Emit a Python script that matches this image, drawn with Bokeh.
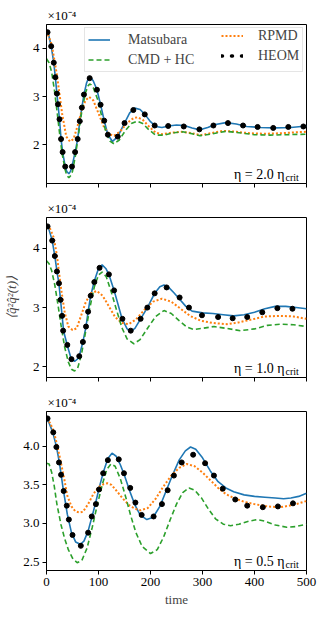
from bokeh.plotting import figure
from bokeh.layouts import column
from bokeh.models import (Range1d, FixedTicker, Label, Legend, LegendItem,
                          CustomLabelingPolicy)
from bokeh.embed import file_html
from bokeh.resources import INLINE

FONT = "Liberation Serif"

# ---------------- data (values in units of 1e-4) ----------------
x_ticks = [0, 100, 200, 300, 400, 500]
x_tick_labels = ["0", "100", "200", "300", "400", "500"]

# eta = 2.0 eta_crit
t_mats_20 = [0, 3, 9, 14, 17, 20, 25, 28, 31, 36, 39, 43, 46, 49, 55, 60, 64, 68, 72, 77, 80, 83, 86, 90, 97, 104, 111, 118, 127, 137, 150, 160, 170, 180, 190, 200, 210, 222, 235, 250, 265, 280, 295, 310, 325, 345, 365, 385, 410, 440, 470, 500]
mats_20 = [4.36, 4.33, 4.04, 3.70, 3.40, 3.06, 2.53, 2.12, 1.85, 1.55, 1.45, 1.40, 1.45, 1.55, 1.85, 2.12, 2.49, 2.77, 3.04, 3.28, 3.36, 3.40, 3.38, 3.32, 3.14, 2.83, 2.50, 2.21, 2.07, 2.17, 2.45, 2.66, 2.76, 2.73, 2.62, 2.48, 2.38, 2.36, 2.39, 2.41, 2.40, 2.35, 2.31, 2.36, 2.42, 2.46, 2.43, 2.38, 2.36, 2.35, 2.36, 2.39]
t_rpmd_20 = [0, 10, 20, 30, 38, 45, 52, 60, 68, 75, 82, 90, 100, 110, 120, 130, 142, 155, 167, 175, 185, 197, 210, 222, 240, 260, 280, 296, 315, 340, 365, 390, 420, 450, 480, 500]
rpmd_20 = [4.36, 4.08, 3.45, 2.65, 2.17, 2.07, 2.12, 2.40, 2.72, 2.92, 2.99, 2.92, 2.65, 2.38, 2.22, 2.19, 2.28, 2.45, 2.55, 2.57, 2.52, 2.38, 2.25, 2.22, 2.25, 2.27, 2.24, 2.20, 2.24, 2.29, 2.27, 2.24, 2.23, 2.24, 2.26, 2.27]
t_cmd_20 = [0, 5, 10, 15, 20, 25, 30, 36, 39, 43, 47, 50, 56, 62, 68, 75, 80, 83, 86, 90, 98, 106, 114, 122, 130, 140, 152, 163, 174, 185, 197, 210, 225, 245, 262, 280, 295, 315, 345, 370, 400, 430, 460, 500]
cmd_20 = [3.78, 3.70, 3.50, 3.15, 2.72, 2.25, 1.82, 1.48, 1.37, 1.32, 1.37, 1.45, 1.80, 2.25, 2.70, 3.08, 3.22, 3.26, 3.24, 3.18, 2.95, 2.60, 2.28, 2.08, 2.02, 2.10, 2.30, 2.44, 2.49, 2.44, 2.31, 2.20, 2.20, 2.25, 2.27, 2.23, 2.19, 2.22, 2.28, 2.25, 2.21, 2.20, 2.21, 2.22]
t_heom_20 = [2, 9, 14, 17, 20, 22, 25, 28, 31, 36, 49, 55, 60, 64, 68, 72, 83, 97, 104, 111, 118, 137, 150, 167, 189, 208, 234, 264, 294, 321, 349, 378, 406, 436, 465, 494]
heom_20 = [4.33, 4.04, 3.70, 3.40, 3.06, 2.84, 2.53, 2.12, 1.85, 1.55, 1.55, 1.85, 2.12, 2.49, 2.77, 3.04, 3.38, 3.14, 2.83, 2.50, 2.21, 2.17, 2.45, 2.72, 2.63, 2.40, 2.39, 2.38, 2.32, 2.40, 2.45, 2.40, 2.37, 2.35, 2.37, 2.38]

# eta = 1.0 eta_crit
t_mats_10 = [0, 3, 11, 16, 20, 24, 27, 30, 33, 40, 47, 54, 62, 70, 76, 80, 85, 92, 100, 107, 114, 120, 130, 145, 155, 162, 170, 181, 194, 208, 218, 226, 235, 245, 256, 268, 280, 300, 320, 340, 360, 380, 400, 420, 440, 460, 480, 500]
mats_10 = [4.38, 4.37, 4.13, 3.87, 3.62, 3.40, 3.13, 2.86, 2.60, 2.36, 2.15, 2.09, 2.15, 2.42, 2.68, 2.93, 3.20, 3.45, 3.66, 3.72, 3.66, 3.56, 3.29, 2.82, 2.64, 2.60, 2.65, 2.81, 3.00, 3.24, 3.35, 3.38, 3.34, 3.25, 3.14, 3.02, 2.94, 2.91, 2.90, 2.88, 2.86, 2.88, 2.92, 2.98, 3.02, 3.02, 3.00, 2.98]
t_rpmd_10 = [0, 7, 14, 20, 28, 35, 42, 50, 58, 66, 75, 85, 97, 108, 120, 132, 145, 158, 172, 188, 205, 222, 240, 258, 276, 296, 320, 347, 370, 395, 420, 450, 475, 500]
rpmd_10 = [4.38, 4.33, 4.18, 3.88, 3.32, 2.92, 2.68, 2.62, 2.65, 2.85, 3.08, 3.24, 3.28, 3.20, 3.02, 2.84, 2.74, 2.72, 2.80, 2.96, 3.10, 3.15, 3.10, 2.98, 2.86, 2.78, 2.74, 2.72, 2.75, 2.80, 2.85, 2.86, 2.85, 2.81]
t_cmd_10 = [0, 5, 10, 16, 22, 28, 35, 42, 48, 54, 60, 67, 75, 83, 92, 100, 107, 115, 125, 135, 145, 155, 168, 180, 195, 210, 226, 240, 255, 270, 283, 300, 322, 345, 373, 400, 425, 450, 475, 500]
cmd_10 = [3.79, 3.74, 3.62, 3.38, 3.05, 2.70, 2.33, 2.08, 1.96, 1.93, 1.98, 2.20, 2.58, 2.98, 3.35, 3.55, 3.60, 3.52, 3.25, 2.95, 2.66, 2.47, 2.39, 2.46, 2.66, 2.85, 2.95, 2.90, 2.78, 2.67, 2.63, 2.65, 2.68, 2.65, 2.61, 2.64, 2.70, 2.72, 2.71, 2.68]
t_heom_10 = [2, 11, 16, 20, 24, 27, 30, 32, 40, 48, 63, 70, 76, 80, 85, 92, 102, 120, 130, 146, 162, 181, 194, 208, 231, 256, 274, 299, 330, 358, 386, 415, 444, 473]
heom_10 = [4.37, 4.13, 3.87, 3.61, 3.41, 3.13, 2.86, 2.61, 2.37, 2.13, 2.18, 2.42, 2.68, 2.93, 3.20, 3.43, 3.67, 3.56, 3.29, 2.81, 2.61, 2.81, 3.00, 3.24, 3.34, 3.17, 3.00, 2.87, 2.84, 2.82, 2.84, 2.92, 2.99, 2.98]

# eta = 0.5 eta_crit
t_mats_05 = [0, 5, 12, 19, 25, 32, 40, 48, 56, 65, 72, 80, 88, 95, 102, 110, 118, 126, 134, 142, 150, 160, 170, 180, 193, 205, 218, 230, 242, 255, 267, 277, 287, 300, 315, 330, 345, 360, 380, 400, 420, 440, 456, 470, 485, 500]
mats_05 = [4.36, 4.30, 4.18, 4.00, 3.78, 3.45, 3.12, 2.88, 2.76, 2.73, 2.77, 2.90, 3.10, 3.28, 3.48, 3.68, 3.84, 3.91, 3.87, 3.76, 3.62, 3.42, 3.24, 3.11, 3.05, 3.08, 3.22, 3.42, 3.62, 3.82, 3.94, 3.99, 3.96, 3.85, 3.68, 3.54, 3.46, 3.41, 3.37, 3.35, 3.34, 3.33, 3.32, 3.33, 3.35, 3.39]
t_rpmd_05 = [0, 7, 14, 20, 27, 34, 40, 48, 55, 63, 70, 80, 90, 100, 110, 117, 125, 135, 147, 160, 170, 181, 195, 210, 225, 240, 255, 270, 285, 300, 315, 330, 345, 360, 380, 400, 425, 450, 475, 500]
rpmd_05 = [4.36, 4.30, 4.19, 4.03, 3.81, 3.58, 3.36, 3.22, 3.16, 3.14, 3.15, 3.25, 3.38, 3.47, 3.51, 3.52, 3.50, 3.42, 3.32, 3.23, 3.19, 3.17, 3.20, 3.32, 3.48, 3.62, 3.72, 3.77, 3.74, 3.66, 3.56, 3.46, 3.38, 3.33, 3.28, 3.25, 3.22, 3.21, 3.24, 3.29]
t_cmd_05 = [0, 5, 10, 15, 20, 28, 35, 42, 50, 59, 68, 78, 88, 98, 108, 116, 124, 132, 142, 152, 162, 172, 184, 200, 213, 225, 238, 250, 262, 274, 285, 298, 312, 325, 340, 354, 370, 390, 405, 420, 440, 462, 480, 500]
cmd_05 = [3.78, 3.77, 3.66, 3.48, 3.25, 2.98, 2.80, 2.66, 2.55, 2.49, 2.52, 2.68, 2.95, 3.25, 3.52, 3.70, 3.77, 3.74, 3.58, 3.35, 3.10, 2.88, 2.70, 2.61, 2.66, 2.82, 3.05, 3.25, 3.40, 3.46, 3.43, 3.33, 3.18, 3.06, 2.99, 2.97, 2.99, 3.03, 3.05, 3.03, 2.98, 2.95, 2.96, 2.99]
t_heom_05 = [2, 13, 19, 24, 28, 33, 39, 43, 50, 66, 80, 87, 95, 101, 109, 118, 139, 149, 161, 171, 183, 206, 222, 233, 245, 260, 282, 305, 322, 339, 363, 386, 416, 445, 474]
heom_05 = [4.36, 4.18, 3.99, 3.79, 3.63, 3.42, 3.23, 3.05, 2.85, 2.71, 2.88, 3.09, 3.25, 3.44, 3.65, 3.82, 3.83, 3.65, 3.46, 3.27, 3.11, 3.09, 3.25, 3.43, 3.62, 3.79, 3.89, 3.78, 3.62, 3.45, 3.31, 3.23, 3.21, 3.22, 3.26]

y_ticks_20 = [2, 3, 4]
y_tick_labels_20 = ["2", "3", "4"]
y_ticks_10 = [2, 3, 4]
y_tick_labels_10 = ["2", "3", "4"]
y_ticks_05 = [2.5, 3.0, 3.5, 4.0]
y_tick_labels_05 = ["2.5", "3.0", "3.5", "4.0"]

eta_labels = ["2.0", "1.0", "0.5"]
series_names = ["Matsubara", "CMD + HC", "RPMD", "HEOM"]
scale_text = "×10⁻⁴"

BLUE, ORANGE, GREEN = "#1f77b4", "#ff7f0e", "#2ca02c"

HIDE_LABELS = CustomLabelingPolicy(code="""
for (let i = 0; i < indices.size; i++) { indices.unset(i) }
return indices
""")


def style_legend(lg, pad, standoff, lw):
    lg.margin = 3
    lg.padding = pad
    lg.spacing = 3
    lg.glyph_width = 22
    lg.glyph_height = 17
    lg.label_height = 17
    lg.label_standoff = standoff
    lg.label_width = lw
    lg.label_text_font = FONT
    lg.label_text_font_size = "14px"
    lg.label_text_baseline = "middle"


def make_panel(height, b_top, b_bottom, yr, yt, ytl, data, eta, last=False, ylabel=None, legend=False):
    p = figure(width=320, height=height, output_backend="svg", toolbar_location=None,
               x_range=Range1d(0, 500), y_range=Range1d(*yr),
               min_border_left=46, min_border_right=14, min_border_top=b_top,
               min_border_bottom=b_bottom, background_fill_color="white",
               border_fill_color="white")
    p.grid.visible = False
    p.outline_line_color = "black"
    p.outline_line_width = 1
    p.outline_line_alpha = 1

    p.title.text = scale_text
    p.title.align = "left"
    p.title.offset = 1
    p.title.standoff = 3
    p.title.text_font = FONT
    p.title.text_font_size = "13px"
    p.title.text_font_style = "normal"
    p.title.text_color = "black"

    for ax in (p.xaxis[0], p.yaxis[0]):
        ax.major_tick_in = 0
        ax.major_tick_out = 4
        ax.minor_tick_line_color = None
        ax.axis_line_color = "black"
        ax.major_tick_line_color = "black"
        ax.major_label_text_font = FONT
        ax.major_label_text_font_size = "13px"
        ax.major_label_text_color = "black"
        ax.major_label_standoff = 3

    p.xaxis.ticker = FixedTicker(ticks=x_ticks)
    p.xaxis.major_label_overrides = dict(zip(x_ticks, x_tick_labels))
    p.yaxis.ticker = FixedTicker(ticks=yt)
    p.yaxis.major_label_overrides = dict(zip(yt, ytl))
    if last:
        p.xaxis.axis_label = "time"
        p.xaxis.axis_label_text_font = FONT
        p.xaxis.axis_label_text_font_size = "13px"
        p.xaxis.axis_label_text_font_style = "normal"
        p.xaxis.axis_label_standoff = 3
    else:
        p.xaxis.major_label_policy = HIDE_LABELS
        p.xaxis.major_label_text_font_size = "1px"
        p.xaxis.major_label_standoff = 0
    if ylabel:
        p.yaxis.axis_label = ylabel
        p.yaxis.axis_label_text_font = FONT
        p.yaxis.axis_label_text_font_size = "13px"
        p.yaxis.axis_label_text_font_style = "italic"
        p.yaxis.axis_label_standoff = 11

    (tm, vm), (tc, vc), (tr, vr), (th, vh) = data
    r_m = p.line(tm, vm, line_color=BLUE, line_width=1.6)
    r_r = p.line(tr, vr, line_color=ORANGE, line_width=2, line_dash="2 2", line_cap="butt")
    r_c = p.line(tc, vc, line_color=GREEN, line_width=1.6, line_dash="5 3")
    p.scatter(th, vh, size=5, fill_color="black", line_color="black")

    p.add_layout(Label(x=500, y=yr[0], x_offset=-22, y_offset=9,
                       text="η = " + eta + " η", text_font=FONT, text_font_size="14px",
                       text_color="black", text_align="right", text_baseline="alphabetic"))
    p.add_layout(Label(x=500, y=yr[0], x_offset=-21, y_offset=6,
                       text="crit", text_font=FONT, text_font_size="10px",
                       text_color="black", text_align="left", text_baseline="alphabetic"))

    if legend:
        # legend-only glyph for the HEOM points (three dots), hidden in the plot itself
        r_dots = p.line(th, vh, line_color="black", line_width=3.5,
                        line_dash="1 9", line_cap="round", visible=False)
        lg_a = Legend(items=[LegendItem(label=series_names[0], renderers=[r_m]),
                             LegendItem(label=series_names[1], renderers=[r_c])],
                      location="top_right")
        style_legend(lg_a, 3, 18, 171)
        lg_a.border_line_color = "#cccccc"
        lg_a.border_line_width = 1
        lg_a.background_fill_alpha = 0.8
        lg_b = Legend(items=[LegendItem(label=series_names[2], renderers=[r_r]),
                             LegendItem(label=series_names[3], renderers=[r_dots])],
                      location="top_right")
        style_legend(lg_b, 3, 15, 45)
        lg_b.border_line_color = None
        lg_b.background_fill_alpha = 0
        p.add_layout(lg_a, "center")
        p.add_layout(lg_b, "center")
    return p


p1 = make_panel(197, 24, 14, (1.2, 4.49), y_ticks_20, y_tick_labels_20,
                [(t_mats_20, mats_20), (t_cmd_20, cmd_20), (t_rpmd_20, rpmd_20), (t_heom_20, heom_20)],
                eta_labels[0], legend=True)
p2 = make_panel(194, 18, 14, (1.82, 4.52), y_ticks_10, y_tick_labels_10,
                [(t_mats_10, mats_10), (t_cmd_10, cmd_10), (t_rpmd_10, rpmd_10), (t_heom_10, heom_10)],
                eta_labels[1], ylabel="⟨q̂²q̂²(t)⟩")
p3 = make_panel(219, 19, 40, (2.39, 4.45), y_ticks_05, y_tick_labels_05,
                [(t_mats_05, mats_05), (t_cmd_05, cmd_05), (t_rpmd_05, rpmd_05), (t_heom_05, heom_05)],
                eta_labels[2], last=True)

layout = column(p1, p2, p3, spacing=0)
open("out.html", "w").write(file_html(layout, INLINE))
